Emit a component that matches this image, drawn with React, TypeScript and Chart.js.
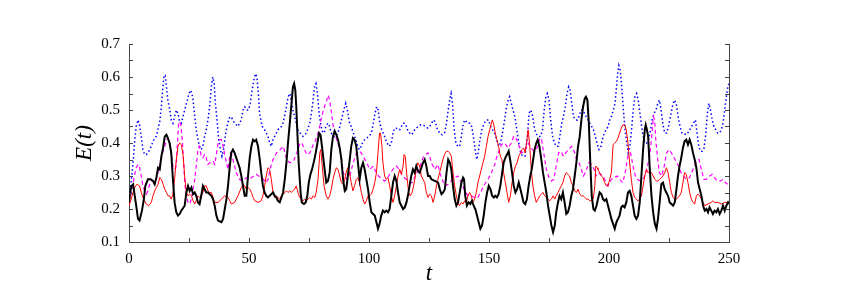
import React, { useEffect, useRef } from 'react';
import { Chart, registerables } from 'chart.js';

Chart.register(...registerables);

// [t, E(t)] pairs
const blackSeries: [number, number][] = [
  [0,0.22],[0.5,0.25],[1,0.27],[1.7,0.275],[2.4,0.24],[3,0.21],[3.75,0.17],[4.4,0.165],[5.4,0.195],[6.2,0.23],[6.8,0.27],[7.9,0.29],[9,0.29],[10,0.285],[10.7,0.275],[11.4,0.295],[12.1,0.325],[12.8,0.32],[13.5,0.36],[14.2,0.385],[14.9,0.42],[15.6,0.425],[16.2,0.415],[16.9,0.4],[17.6,0.37],[18.3,0.29],[19,0.22],[19.7,0.19],[20.4,0.18],[21.1,0.185],[21.8,0.195],[23.2,0.21],[23.9,0.25],[24.6,0.27],[25.3,0.255],[26,0.265],[26.7,0.245],[27.4,0.25],[28,0.24],[28.75,0.22],[29.4,0.215],[30.1,0.24],[30.8,0.27],[31.5,0.26],[32.2,0.25],[32.9,0.25],[34.3,0.24],[35,0.23],[35.7,0.21],[36.4,0.18],[37.1,0.165],[38.5,0.16],[39.2,0.17],[39.9,0.2],[40.6,0.23],[41.25,0.27],[42,0.33],[42.6,0.37],[43.3,0.38],[44,0.37],[44.7,0.355],[45.4,0.34],[46.1,0.325],[46.8,0.3],[47.5,0.27],[48.2,0.24],[48.9,0.24],[49.6,0.3],[50.3,0.355],[51,0.39],[51.7,0.41],[52.4,0.405],[53,0.41],[53.75,0.39],[54.4,0.355],[55.1,0.31],[55.8,0.27],[56.5,0.25],[57.2,0.24],[57.9,0.235],[58.6,0.24],[59.3,0.245],[60,0.25],[60.7,0.24],[61.4,0.235],[62,0.225],[62.8,0.22],[63.5,0.235],[64.2,0.25],[64.9,0.29],[65.6,0.34],[66.25,0.4],[67,0.46],[67.6,0.51],[68.3,0.57],[68.8,0.58],[69.3,0.56],[69.7,0.51],[70.1,0.44],[70.7,0.34],[71.5,0.25],[72,0.22],[72.9,0.215],[73.6,0.22],[74.3,0.24],[74.9,0.28],[75.6,0.305],[76.25,0.32],[77.1,0.345],[77.8,0.37],[78.5,0.4],[79.2,0.43],[79.8,0.425],[80.4,0.39],[80.8,0.365],[81.5,0.32],[82.2,0.28],[82.9,0.285],[83.6,0.31],[84.3,0.38],[85,0.42],[85.7,0.436],[86.4,0.425],[87.1,0.41],[87.8,0.385],[88.5,0.35],[89.2,0.29],[89.9,0.255],[90.5,0.26],[91.2,0.3],[91.9,0.345],[92.6,0.39],[93.3,0.415],[94,0.41],[94.7,0.39],[95.4,0.34],[96.1,0.29],[96.8,0.325],[97.5,0.34],[98.2,0.32],[98.9,0.29],[99.6,0.26],[100.3,0.22],[101,0.19],[101.7,0.185],[102.4,0.18],[103.1,0.16],[103.75,0.14],[104.4,0.155],[105.1,0.18],[105.8,0.195],[106.5,0.19],[107.2,0.195],[107.9,0.19],[108.6,0.2],[109.3,0.24],[110,0.28],[110.7,0.3],[111.4,0.285],[112.1,0.25],[112.8,0.22],[113.5,0.21],[114.2,0.2],[114.9,0.205],[115.6,0.22],[116.2,0.24],[116.9,0.27],[117.6,0.3],[118.3,0.32],[119,0.31],[119.7,0.33],[120.4,0.315],[121.1,0.31],[121.8,0.325],[122.5,0.34],[123.2,0.35],[123.9,0.33],[124.6,0.3],[125.3,0.3],[126,0.29],[127.4,0.285],[128.8,0.28],[129.5,0.26],[130.2,0.245],[130.9,0.25],[131.6,0.26],[132.3,0.31],[133,0.35],[133.7,0.34],[134.3,0.32],[135,0.27],[135.7,0.23],[136.4,0.21],[137.1,0.22],[137.8,0.25],[138.5,0.28],[139.2,0.295],[139.6,0.29],[140.1,0.24],[140.8,0.21],[141.5,0.22],[142.2,0.215],[142.9,0.225],[143.6,0.21],[144.3,0.2],[145,0.18],[145.7,0.16],[146.4,0.14],[147.1,0.15],[147.8,0.18],[148.5,0.22],[149.2,0.25],[149.9,0.27],[150.6,0.26],[151.3,0.24],[152,0.235],[152.6,0.24],[153.3,0.235],[154,0.245],[154.7,0.27],[155.4,0.305],[156.1,0.34],[156.8,0.355],[157.5,0.365],[158.2,0.375],[158.9,0.345],[159.6,0.31],[160.3,0.27],[161,0.25],[161.7,0.26],[162.4,0.28],[163.1,0.26],[163.75,0.24],[164.4,0.22],[165.1,0.215],[165.8,0.23],[166.5,0.27],[167.2,0.3],[167.8,0.32],[168.4,0.35],[169,0.38],[169.7,0.4],[170.3,0.41],[171,0.39],[171.8,0.35],[172.5,0.31],[173.2,0.28],[173.9,0.25],[174.6,0.21],[175.3,0.18],[176,0.15],[176.7,0.13],[177.4,0.15],[178,0.19],[178.75,0.22],[179.4,0.24],[180.1,0.23],[180.8,0.25],[181.5,0.22],[182.2,0.185],[182.9,0.19],[183.6,0.21],[184.3,0.24],[185,0.26],[185.7,0.3],[186.4,0.34],[187.1,0.39],[187.8,0.42],[188.5,0.47],[189.2,0.51],[189.9,0.535],[190.4,0.54],[191,0.53],[191.6,0.46],[192.2,0.34],[192.8,0.24],[193.5,0.2],[194.1,0.195],[194.8,0.21],[195.4,0.23],[196.1,0.25],[196.8,0.245],[197.5,0.23],[198.2,0.225],[198.9,0.23],[199.6,0.21],[200.3,0.19],[201,0.17],[201.7,0.155],[202.4,0.14],[203.1,0.16],[203.75,0.17],[204.4,0.18],[205.1,0.205],[205.8,0.21],[206.5,0.205],[207.2,0.22],[207.9,0.25],[208.6,0.255],[209.3,0.24],[210,0.21],[210.7,0.18],[211.4,0.17],[212.1,0.18],[212.8,0.22],[213.5,0.3],[214.2,0.38],[214.9,0.44],[215.3,0.455],[215.8,0.44],[216.3,0.42],[217,0.32],[217.7,0.24],[218.4,0.19],[219.1,0.155],[219.8,0.14],[220.4,0.17],[221.1,0.22],[221.8,0.275],[222.5,0.28],[223.2,0.26],[223.9,0.25],[224.6,0.24],[225.3,0.22],[226,0.215],[226.7,0.21],[227.4,0.22],[228.1,0.26],[228.75,0.3],[229.4,0.33],[230.1,0.355],[230.8,0.385],[231.5,0.405],[232.2,0.41],[232.9,0.395],[233.6,0.41],[234.3,0.395],[235,0.37],[235.7,0.35],[236.4,0.325],[237.1,0.28],[237.8,0.26],[238.5,0.24],[239.2,0.21],[239.9,0.195],[240.6,0.2],[241.25,0.19],[241.9,0.205],[242.6,0.195],[243.3,0.185],[244,0.195],[244.7,0.19],[245.4,0.2],[246.1,0.185],[246.8,0.195],[247.5,0.21],[248.2,0.195],[248.9,0.21],[249.6,0.22],[250,0.215]
];

const redSeries: [number, number][] = [
  [0,0.21],[0.7,0.225],[1.7,0.25],[2.4,0.265],[3.3,0.275],[4.4,0.27],[5.1,0.25],[5.8,0.235],[6.5,0.225],[7.2,0.215],[8.2,0.21],[9.3,0.22],[10,0.24],[10.7,0.255],[11.4,0.265],[12.1,0.275],[12.8,0.295],[13.5,0.29],[14.2,0.275],[14.9,0.26],[15.6,0.25],[16.25,0.24],[16.9,0.24],[17.6,0.23],[18.3,0.245],[19,0.29],[19.7,0.35],[20.4,0.39],[21.1,0.4],[21.8,0.395],[22.5,0.365],[23.2,0.3],[23.9,0.25],[24.6,0.24],[25.3,0.245],[26,0.24],[26.7,0.225],[27.4,0.215],[28,0.225],[28.75,0.24],[29.4,0.235],[30.1,0.24],[30.8,0.25],[31.5,0.27],[32.2,0.27],[32.9,0.255],[33.6,0.25],[34.3,0.25],[35,0.235],[35.7,0.22],[37.1,0.22],[38.5,0.23],[39.9,0.24],[41.25,0.235],[42,0.225],[42.6,0.215],[44,0.22],[45.4,0.24],[46.8,0.265],[47.5,0.275],[48.2,0.27],[48.9,0.26],[49.6,0.265],[50.3,0.26],[51,0.25],[51.7,0.235],[52.4,0.225],[53.75,0.22],[55.1,0.225],[55.8,0.24],[56.5,0.27],[57.2,0.3],[57.9,0.325],[58.6,0.32],[59.3,0.29],[60,0.25],[60.7,0.235],[61.4,0.24],[62,0.235],[62.8,0.23],[63.5,0.24],[64.2,0.245],[65,0.25],[65.6,0.255],[66.25,0.25],[67,0.255],[67.6,0.25],[68.3,0.255],[69,0.26],[69.7,0.27],[70.4,0.25],[71.1,0.235],[71.8,0.23],[72.5,0.225],[73.2,0.23],[73.9,0.225],[74.6,0.23],[75.3,0.235],[76,0.23],[76.7,0.24],[77.4,0.235],[78,0.25],[78.75,0.29],[79.5,0.37],[79.9,0.38],[80.4,0.34],[81.25,0.27],[82.2,0.24],[82.9,0.23],[83.6,0.24],[84.3,0.26],[85,0.29],[85.7,0.31],[86.4,0.325],[87.1,0.32],[87.8,0.3],[88.5,0.28],[89.2,0.275],[89.9,0.29],[90.6,0.315],[91.2,0.325],[91.9,0.31],[92.6,0.28],[93.3,0.255],[94,0.27],[94.7,0.29],[95.4,0.295],[96.1,0.28],[96.8,0.25],[97.5,0.23],[98.2,0.215],[98.9,0.225],[99.6,0.24],[100.3,0.24],[101,0.245],[101.7,0.26],[102.4,0.28],[103.1,0.31],[103.75,0.37],[104.4,0.43],[104.8,0.43],[105.4,0.39],[105.8,0.34],[106.5,0.3],[107.2,0.29],[107.9,0.295],[108.6,0.27],[109.3,0.24],[110,0.22],[110.7,0.24],[111.4,0.27],[112.1,0.3],[112.8,0.32],[113.5,0.305],[114.2,0.33],[114.6,0.365],[115.1,0.36],[115.8,0.3],[116.5,0.25],[117.2,0.24],[117.9,0.25],[118.6,0.27],[119.3,0.3],[119.7,0.325],[120.4,0.34],[121.1,0.33],[121.8,0.3],[122.5,0.29],[123.2,0.28],[123.9,0.25],[124.6,0.235],[125.3,0.245],[126,0.24],[126.7,0.22],[127.4,0.24],[128.1,0.27],[128.75,0.29],[129.4,0.31],[130.1,0.33],[130.8,0.35],[131.5,0.365],[132.2,0.375],[132.9,0.375],[133.6,0.37],[134.3,0.36],[135,0.31],[135.7,0.27],[136.4,0.24],[137,0.22],[137.7,0.21],[138.5,0.22],[139.2,0.215],[139.9,0.225],[140.6,0.22],[141.25,0.24],[141.9,0.25],[142.6,0.24],[143.3,0.22],[144,0.23],[144.7,0.25],[145.4,0.28],[146.1,0.3],[146.8,0.32],[147.5,0.34],[148.2,0.36],[148.9,0.39],[149.6,0.42],[150.3,0.44],[151,0.46],[151.4,0.47],[152,0.455],[152.6,0.43],[153.3,0.41],[154,0.39],[154.7,0.36],[155.4,0.35],[156.1,0.31],[156.8,0.28],[157.5,0.25],[158.2,0.22],[158.9,0.24],[159.6,0.28],[160.3,0.31],[161,0.33],[161.7,0.34],[162.4,0.36],[163.1,0.37],[163.75,0.38],[164.4,0.385],[165.1,0.37],[165.8,0.41],[166.3,0.44],[167,0.39],[167.6,0.32],[168.3,0.27],[169,0.24],[169.7,0.22],[170.4,0.23],[171.1,0.24],[171.8,0.245],[172.5,0.25],[173.2,0.24],[173.9,0.235],[174.6,0.23],[175.3,0.225],[176,0.23],[176.7,0.24],[177.4,0.23],[178,0.24],[178.75,0.25],[179.4,0.26],[180.1,0.27],[180.8,0.28],[181.5,0.3],[182.2,0.31],[182.9,0.305],[183.6,0.3],[184.3,0.28],[185,0.27],[185.7,0.255],[186.4,0.25],[187.1,0.26],[187.8,0.245],[188.5,0.24],[189.2,0.24],[189.9,0.235],[190.6,0.23],[191.3,0.23],[192,0.225],[192.7,0.225],[193.4,0.23],[194.1,0.27],[194.5,0.33],[195,0.325],[195.4,0.32],[196.1,0.31],[196.8,0.3],[197.5,0.295],[198.2,0.28],[198.9,0.27],[199.6,0.27],[200.3,0.29],[201,0.31],[201.7,0.395],[202.4,0.4],[203.1,0.405],[203.75,0.415],[204.4,0.43],[205.1,0.445],[205.8,0.455],[206.5,0.455],[207.2,0.44],[207.9,0.4],[208.6,0.34],[209.3,0.29],[210,0.25],[210.7,0.235],[211.4,0.23],[212,0.225],[212.8,0.23],[213.5,0.24],[214.2,0.27],[214.9,0.3],[215.6,0.32],[216.3,0.31],[217,0.315],[217.7,0.31],[218.4,0.3],[219.1,0.29],[219.8,0.285],[220.4,0.285],[221.1,0.29],[221.8,0.295],[222.5,0.3],[223.2,0.31],[223.9,0.325],[224.6,0.31],[225.3,0.28],[226,0.25],[226.7,0.235],[227.4,0.23],[228.1,0.23],[228.75,0.235],[229.4,0.24],[230.1,0.25],[230.8,0.28],[231.5,0.31],[232.2,0.305],[232.9,0.28],[233.6,0.25],[234.3,0.23],[235,0.22],[235.7,0.215],[236.4,0.24],[237.1,0.245],[237.8,0.24],[238.5,0.23],[239.2,0.22],[239.9,0.21],[241.25,0.215],[242.6,0.22],[243.3,0.225],[244,0.22],[245.4,0.22],[246.8,0.215],[248.2,0.22],[249.6,0.22],[250,0.22]
];

const magentaSeries: [number, number][] = [
  [0,0.22],[0.3,0.23],[1,0.25],[1.7,0.28],[2.4,0.305],[3,0.325],[3.75,0.335],[4.4,0.325],[5.1,0.3],[5.8,0.27],[6.5,0.255],[7.2,0.245],[7.9,0.255],[8.6,0.275],[9.3,0.285],[10,0.285],[10.7,0.28],[11.4,0.29],[12.1,0.31],[12.8,0.33],[13.5,0.355],[14.2,0.375],[14.9,0.39],[15.6,0.41],[16.3,0.415],[17,0.4],[17.6,0.37],[18.3,0.33],[19,0.32],[19.7,0.33],[20.1,0.39],[20.7,0.46],[21.1,0.465],[21.6,0.455],[22.2,0.41],[22.8,0.34],[23.2,0.28],[23.9,0.24],[24.6,0.22],[25.3,0.215],[26,0.23],[26.7,0.26],[27.4,0.29],[28,0.33],[28.75,0.38],[29.2,0.39],[29.6,0.38],[30.1,0.36],[30.8,0.355],[31.5,0.365],[32.2,0.355],[32.9,0.335],[33.6,0.34],[34.3,0.34],[35,0.345],[35.7,0.335],[36.4,0.365],[37.1,0.4],[37.8,0.41],[38.5,0.41],[39.2,0.39],[39.9,0.365],[40.6,0.34],[41.25,0.32],[42,0.36],[42.6,0.37],[43.3,0.35],[44,0.33],[44.7,0.31],[45.4,0.3],[46.1,0.29],[47,0.285],[48,0.29],[49,0.295],[50,0.29],[51,0.295],[52,0.3],[53,0.305],[54,0.3],[55,0.295],[56,0.29],[57,0.28],[58,0.29],[58.75,0.32],[60,0.35],[61.5,0.37],[63,0.38],[64.3,0.39],[65,0.37],[65.7,0.35],[67,0.34],[68.5,0.345],[69.9,0.37],[71.25,0.4],[72,0.4],[72.6,0.39],[74,0.365],[75.4,0.37],[76.5,0.39],[77.8,0.41],[79.2,0.44],[80,0.47],[81,0.5],[82.4,0.53],[83,0.545],[83.6,0.53],[84.4,0.49],[85.1,0.45],[86.5,0.41],[87.9,0.38],[88.6,0.35],[89.3,0.31],[90,0.3],[90.7,0.29],[92,0.3],[93.4,0.34],[94.8,0.37],[96.2,0.375],[97.6,0.36],[99,0.34],[100.4,0.32],[101.8,0.33],[103,0.31],[104,0.3],[105.5,0.29],[106.5,0.285],[107.5,0.29],[109,0.31],[110.5,0.325],[111.5,0.33],[112.5,0.32],[114,0.3],[115.5,0.29],[117,0.28],[118,0.28],[119,0.295],[120,0.31],[121.3,0.33],[122.5,0.355],[123.5,0.365],[124.6,0.37],[125.3,0.36],[126,0.34],[127.4,0.32],[128.75,0.335],[129.5,0.31],[130.5,0.29],[131.6,0.27],[133,0.275],[134.3,0.285],[135.7,0.295],[137,0.3],[138.5,0.28],[139.9,0.255],[141.25,0.24],[142.6,0.24],[144,0.235],[145.4,0.235],[146.8,0.255],[148.2,0.275],[149.6,0.29],[151,0.31],[152.4,0.335],[153.1,0.355],[154.4,0.38],[155.1,0.395],[156.5,0.4],[157.9,0.385],[159.3,0.4],[160.3,0.42],[160.9,0.42],[162.1,0.4],[163.5,0.37],[164.9,0.375],[166.25,0.4],[167.5,0.385],[168.8,0.375],[170,0.385],[171,0.41],[171.8,0.415],[172.8,0.37],[173.9,0.32],[175,0.295],[176,0.285],[177,0.29],[178,0.33],[179,0.37],[180,0.375],[181,0.36],[182,0.37],[183,0.38],[184.4,0.39],[185.5,0.375],[186.5,0.35],[187.5,0.34],[188.5,0.32],[189.3,0.3],[190.5,0.315],[191.5,0.34],[192.8,0.335],[193.8,0.32],[194.5,0.3],[195.4,0.31],[196.5,0.305],[197.5,0.3],[198.5,0.285],[199.6,0.27],[201,0.29],[202,0.295],[203.5,0.3],[205,0.285],[205.8,0.28],[207,0.32],[208,0.365],[209,0.37],[210,0.33],[211,0.3],[211.8,0.29],[213,0.285],[214,0.29],[215,0.3],[216,0.33],[217,0.36],[217.8,0.42],[218.5,0.48],[219,0.47],[219.5,0.41],[220.3,0.35],[221,0.31],[222,0.3],[223,0.33],[224,0.37],[225,0.38],[226,0.37],[227.5,0.35],[229,0.33],[230,0.31],[231.5,0.295],[232.5,0.29],[233.5,0.295],[235,0.32],[236.5,0.345],[237.5,0.35],[238.5,0.32],[239.5,0.29],[240.5,0.29],[242,0.3],[243,0.305],[244,0.295],[245,0.285],[246.5,0.285],[247.5,0.29],[248.5,0.28],[249.5,0.275],[250,0.28]
];

const blueSeries: [number, number][] = [
  [0,0.22],[0.5,0.25],[1,0.29],[1.7,0.34],[2.4,0.41],[3,0.45],[3.75,0.47],[4.4,0.455],[5.1,0.42],[5.8,0.38],[6.5,0.365],[7.2,0.365],[7.9,0.37],[8.6,0.38],[9.3,0.39],[10,0.405],[10.7,0.415],[11.4,0.42],[12,0.44],[12.8,0.465],[13.5,0.51],[14,0.56],[14.6,0.605],[15.1,0.605],[15.6,0.57],[16.2,0.53],[17,0.5],[17.6,0.47],[18.3,0.46],[19,0.48],[19.7,0.5],[20.4,0.49],[21.1,0.465],[21.8,0.46],[22.5,0.48],[23.2,0.5],[24.3,0.53],[25,0.55],[25.7,0.56],[26.2,0.55],[26.7,0.53],[27.4,0.48],[28,0.44],[28.75,0.41],[29.4,0.39],[30.1,0.38],[30.8,0.39],[31.5,0.42],[32.2,0.44],[32.9,0.47],[33.6,0.51],[34.3,0.57],[34.9,0.6],[35.5,0.58],[36,0.52],[36.8,0.46],[37.4,0.41],[38.1,0.38],[38.75,0.36],[39.4,0.38],[40.1,0.42],[40.8,0.45],[41.7,0.475],[42.5,0.48],[43.3,0.47],[44,0.46],[45.4,0.45],[46.1,0.46],[46.8,0.47],[47.5,0.5],[48.2,0.51],[49,0.5],[49.8,0.5],[50.5,0.52],[51.3,0.56],[52,0.59],[52.7,0.61],[53.3,0.6],[54,0.54],[54.4,0.49],[55.5,0.45],[56.5,0.44],[57.2,0.43],[57.9,0.42],[58.6,0.4],[59.3,0.39],[60,0.41],[60.7,0.42],[61.4,0.43],[62,0.44],[63,0.445],[64,0.455],[64.8,0.48],[65.6,0.51],[66.3,0.54],[67,0.55],[67.6,0.53],[68.3,0.5],[69,0.48],[69.7,0.46],[70.4,0.44],[71.3,0.43],[72.5,0.42],[73.2,0.425],[73.9,0.43],[74.6,0.445],[75.3,0.46],[76,0.49],[76.7,0.53],[77.3,0.57],[77.9,0.58],[78.5,0.55],[79.2,0.49],[80,0.45],[80.8,0.43],[81.5,0.435],[82,0.45],[82.9,0.46],[83.6,0.45],[84.3,0.43],[85.3,0.42],[86.4,0.42],[87.5,0.44],[88.5,0.47],[89.5,0.5],[90.3,0.52],[91,0.5],[91.9,0.46],[92.6,0.45],[93.5,0.43],[94.5,0.41],[95.3,0.39],[96,0.38],[96.8,0.39],[97.5,0.405],[98.2,0.41],[99,0.415],[100,0.42],[101,0.43],[101.8,0.46],[102.5,0.49],[103.2,0.51],[103.8,0.5],[104.5,0.46],[105.3,0.44],[106.5,0.42],[107.5,0.4],[108.5,0.39],[109.3,0.4],[110,0.43],[110.7,0.445],[111.4,0.445],[112.1,0.44],[112.8,0.44],[113.5,0.45],[114.2,0.46],[114.9,0.46],[115.6,0.45],[116.3,0.435],[117,0.43],[117.6,0.425],[118.3,0.43],[119,0.44],[119.7,0.445],[120.5,0.45],[121.5,0.455],[122.5,0.455],[123.5,0.45],[124.5,0.445],[125.3,0.45],[126,0.46],[127,0.47],[127.8,0.46],[128.5,0.44],[129.5,0.43],[130.5,0.425],[131.5,0.43],[132.3,0.46],[133,0.5],[133.6,0.53],[134.2,0.55],[134.8,0.52],[135.5,0.44],[136.2,0.4],[137,0.39],[137.8,0.39],[138.5,0.42],[139.3,0.46],[140,0.47],[141,0.46],[142,0.46],[142.8,0.45],[143.5,0.42],[144.2,0.38],[144.9,0.35],[145.5,0.37],[146.2,0.41],[147,0.44],[148,0.46],[149,0.47],[149.8,0.47],[150.7,0.45],[151.5,0.44],[152.3,0.43],[153.2,0.41],[154,0.39],[154.8,0.4],[155.6,0.43],[156.5,0.47],[157.3,0.51],[158,0.53],[158.6,0.54],[159.3,0.52],[160,0.5],[160.8,0.48],[161.6,0.44],[162.4,0.4],[163.2,0.37],[164,0.36],[165,0.36],[166,0.42],[166.7,0.49],[167.3,0.5],[168,0.49],[168.8,0.45],[169.5,0.43],[170.5,0.42],[171.5,0.42],[172.3,0.44],[173,0.5],[173.7,0.54],[174.3,0.55],[175,0.53],[175.7,0.47],[176.5,0.42],[177.3,0.4],[178,0.39],[178.8,0.39],[179.5,0.42],[180.3,0.46],[181,0.48],[181.8,0.51],[182.5,0.55],[183.2,0.57],[183.8,0.56],[184.5,0.52],[185.2,0.48],[186,0.47],[186.8,0.47],[187.5,0.48],[188.3,0.5],[189,0.5],[189.8,0.49],[190.5,0.48],[191.3,0.47],[192,0.46],[192.8,0.45],[193.5,0.44],[194.3,0.42],[195,0.4],[195.8,0.38],[196.5,0.385],[197.2,0.41],[198,0.43],[198.8,0.44],[199.6,0.45],[200.3,0.47],[201,0.48],[201.8,0.5],[202.5,0.52],[203,0.56],[203.6,0.61],[204.1,0.635],[204.7,0.62],[205.3,0.57],[206,0.5],[206.7,0.44],[207.4,0.4],[208,0.37],[208.7,0.39],[209.4,0.44],[210.1,0.5],[210.8,0.54],[211.5,0.55],[212.2,0.53],[212.9,0.49],[213.6,0.45],[214.3,0.42],[215,0.4],[215.7,0.4],[216.5,0.41],[217.3,0.44],[218,0.47],[218.8,0.49],[219.6,0.5],[220.3,0.52],[221,0.53],[221.7,0.5],[222.4,0.46],[223.2,0.43],[224,0.43],[224.8,0.45],[225.6,0.48],[226.4,0.51],[227.2,0.53],[228,0.52],[228.8,0.48],[229.6,0.45],[230.4,0.43],[231.2,0.43],[232,0.425],[232.8,0.43],[233.6,0.44],[234.4,0.45],[235.2,0.46],[236,0.47],[236.7,0.43],[237.4,0.39],[238.1,0.375],[238.8,0.375],[239.5,0.38],[240.2,0.42],[241,0.49],[241.6,0.52],[242.3,0.5],[243,0.47],[243.7,0.45],[244.5,0.44],[245.3,0.43],[246,0.43],[246.8,0.44],[247.5,0.46],[248.2,0.5],[248.9,0.54],[249.5,0.57],[250,0.58]
];

const xLabelTicks = [0, 50, 100, 150, 200, 250];
const yLabelTicks = [0.1, 0.2, 0.3, 0.4, 0.5, 0.6, 0.7];
const xMinorStep = 25;
const yMinorStep = 0.05;

const toPoints = (s: [number, number][]) => s.map(([x, y]) => ({ x, y }));

const framePlugin = {
  id: 'frame',
  afterDraw(chart: any) {
    const { ctx, chartArea: a, scales } = chart;
    const xs = scales.x;
    const ys = scales.y;
    ctx.save();
    ctx.strokeStyle = '#444';
    ctx.lineWidth = 1;
    ctx.beginPath();
    const rx = Math.round(a.right) + 0.5;
    ctx.moveTo(rx, a.top);
    ctx.lineTo(rx, a.bottom);
    for (let v = ys.min; v <= ys.max + 1e-9; v += yMinorStep) {
      const py = Math.round(ys.getPixelForValue(v)) + 0.5;
      ctx.moveTo(a.left, py);
      ctx.lineTo(a.left + 4, py);
      ctx.moveTo(a.right, py);
      ctx.lineTo(a.right - 4, py);
    }
    for (let v = xs.min; v <= xs.max + 1e-9; v += xMinorStep) {
      const px = Math.round(xs.getPixelForValue(v)) + 0.5;
      ctx.moveTo(px, a.bottom);
      ctx.lineTo(px, a.bottom - 4);
    }
    ctx.stroke();
    ctx.restore();
  },
};

export default function App() {
  const ref = useRef<HTMLCanvasElement>(null);
  useEffect(() => {
    if (!ref.current) return;
    const tickFont = { family: '"Liberation Serif", "Times New Roman", serif', size: 15 };
    const titleFont = { family: '"Liberation Serif", "Times New Roman", serif', size: 23, style: 'italic' as const };
    const chart = new Chart(ref.current, {
      type: 'line',
      data: {
        datasets: [
          { data: toPoints(blackSeries), borderColor: '#000000', borderWidth: 2, pointRadius: 0, tension: 0, fill: false },
          { data: toPoints(redSeries), borderColor: '#ff0000', borderWidth: 1, pointRadius: 0, tension: 0, fill: false },
          { data: toPoints(magentaSeries), borderColor: '#ff00ff', borderWidth: 1.2, borderDash: [4, 3], pointRadius: 0, tension: 0, fill: false },
          { data: toPoints(blueSeries), borderColor: '#0000ff', borderWidth: 1.5, borderDash: [1.5, 2.5], pointRadius: 0, tension: 0, fill: false },
        ],
      },
      options: {
        responsive: false,
        animation: false,
        devicePixelRatio: 1,
        layout: { padding: { left: 0, right: 129, top: 44, bottom: 0 } },
        plugins: { legend: { display: false }, tooltip: { enabled: false } },
        scales: {
          x: {
            type: 'linear',
            min: 0,
            max: 250,
            afterFit: (s: any) => { s.height = 46; },
            afterBuildTicks: (s: any) => { s.ticks = xLabelTicks.map((v) => ({ value: v })); },
            grid: { display: false, drawTicks: false },
            border: { display: true, color: '#444', width: 1 },
            ticks: { padding: 8, font: tickFont, color: '#000', maxRotation: 0, autoSkip: false },
            title: { display: true, text: 't', font: titleFont, color: '#000', padding: { top: 0, bottom: 0 } },
          },
          y: {
            type: 'linear',
            min: 0.1,
            max: 0.7,
            afterFit: (s: any) => { s.width = 129; },
            afterBuildTicks: (s: any) => { s.ticks = yLabelTicks.map((v) => ({ value: v })); },
            grid: { display: false, drawTicks: false },
            border: { display: true, color: '#444', width: 1 },
            ticks: { padding: 9, font: tickFont, color: '#000', autoSkip: false, callback: (v: any) => Number(v).toFixed(1) },
            title: { display: true, text: 'E(t)', font: titleFont, color: '#000', padding: { top: 71, bottom: 0 } },
          },
        },
      },
      plugins: [framePlugin],
    });
    return () => chart.destroy();
  }, []);
  return (
    <div style={{ position: 'fixed', left: 0, top: 0, width: 858, height: 288, background: '#fff' }}>
      <canvas ref={ref} width={858} height={288} />
    </div>
  );
}
